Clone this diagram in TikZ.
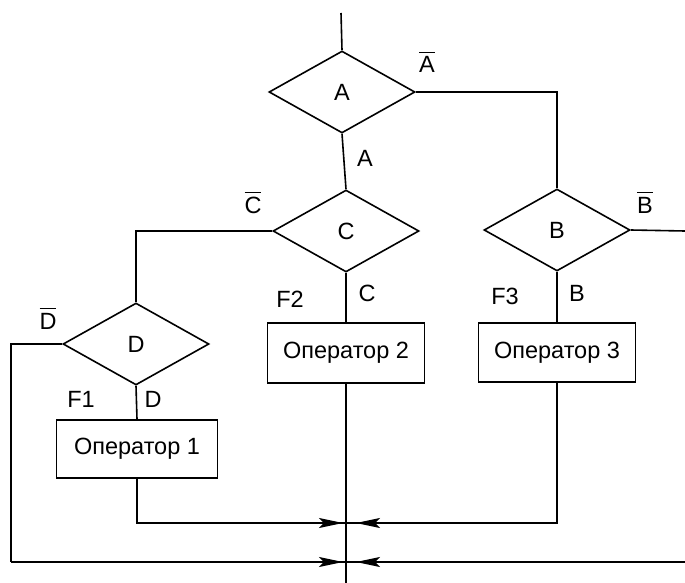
\documentclass[tikz,border=0pt]{standalone}
\usepackage{fontspec}
\setmainfont{Liberation Sans}
\usetikzlibrary{shapes.geometric,arrows.meta,decorations.markings}
\newcommand\ovl[1]{\leavevmode\vbox{\hrule height 1.2pt\kern 3.5pt\hbox{#1}}}
\begin{document}
\begin{tikzpicture}[x=1pt,y=-1pt,
  line width=1.6pt,
  every node/.style={font=\fontsize{23.5}{28}\selectfont},
  dia/.style={draw,diamond,inner sep=0pt,minimum width=146pt,minimum height=82pt},
  opbox/.style={draw,rectangle,inner sep=0pt,minimum width=157pt,minimum height=59pt},
  lbl/.style={anchor=base,inner sep=0pt},
  arrowin/.style={postaction={decorate},decoration={markings,mark=at position -#1 with {\arrow{Stealth[length=24pt,width=10pt,inset=5pt]}}}}
]
\useasboundingbox (0,0) rectangle (685,583);
% decisions
\node[dia] (A) at (342,92) {A};
\node[dia] (C) at (346,231) {C};
\node[dia] (B) at (557,230) {B};
\node[dia] (D) at (136,344) {D};
% operators
\node[opbox,minimum width=161pt,minimum height=58pt] (op1) at (137,449) {Оператор 1};
\node[opbox,minimum height=60pt] (op2) at (346,353) {Оператор 2};
\node[opbox] (op3) at (557,352.5) {Оператор 3};
% free ends and junctions
\coordinate (top) at (341,13);
\coordinate (bend) at (685,231);
\coordinate (main) at (346,583);
\coordinate (j1) at (346,523);
\coordinate (j2) at (346,562);
\coordinate (lc) at (11,562);
\coordinate (rc) at (685,562);
% connectors
\draw (top) -- (A.north);
\draw (A.east) -| (B.north);
\draw (A.south) -- (C.north);
\draw (C.west) -| (D.north);
\draw (C.south) -- (op2.north);
\draw (B.east) -- (bend);
\draw (B.south) -- (op3.north);
\draw (D.south) -- (op1.north);
\draw (op2.south) -- (main);
\draw[arrowin=3pt] (op1.south) |- (j1);
\draw[arrowin=10pt] (op3.south) |- (j1);
\draw (D.west) -| (lc);
\draw[arrowin=3pt] (lc) -- (j2);
\draw[arrowin=10pt] (rc) -- (j2);
% labels
\node[lbl] (lAbar) at (427,73) {\ovl{A}};
\node[lbl] (lA) at (365,166) {A};
\node[lbl] (lCbar) at (253,213) {\ovl{C}};
\node[lbl] (lC) at (367,301) {C};
\node[lbl] (lF2) at (290,307) {F2};
\node[lbl] (lBbar) at (645,213) {\ovl{B}};
\node[lbl] (lB) at (577,301) {B};
\node[lbl] (lF3) at (505,304) {F3};
\node[lbl] (lDbar) at (48,329) {\ovl{D}};
\node[lbl] (lD) at (153,407) {D};
\node[lbl] (lF1) at (81,407) {F1};
\end{tikzpicture}
\end{document}
